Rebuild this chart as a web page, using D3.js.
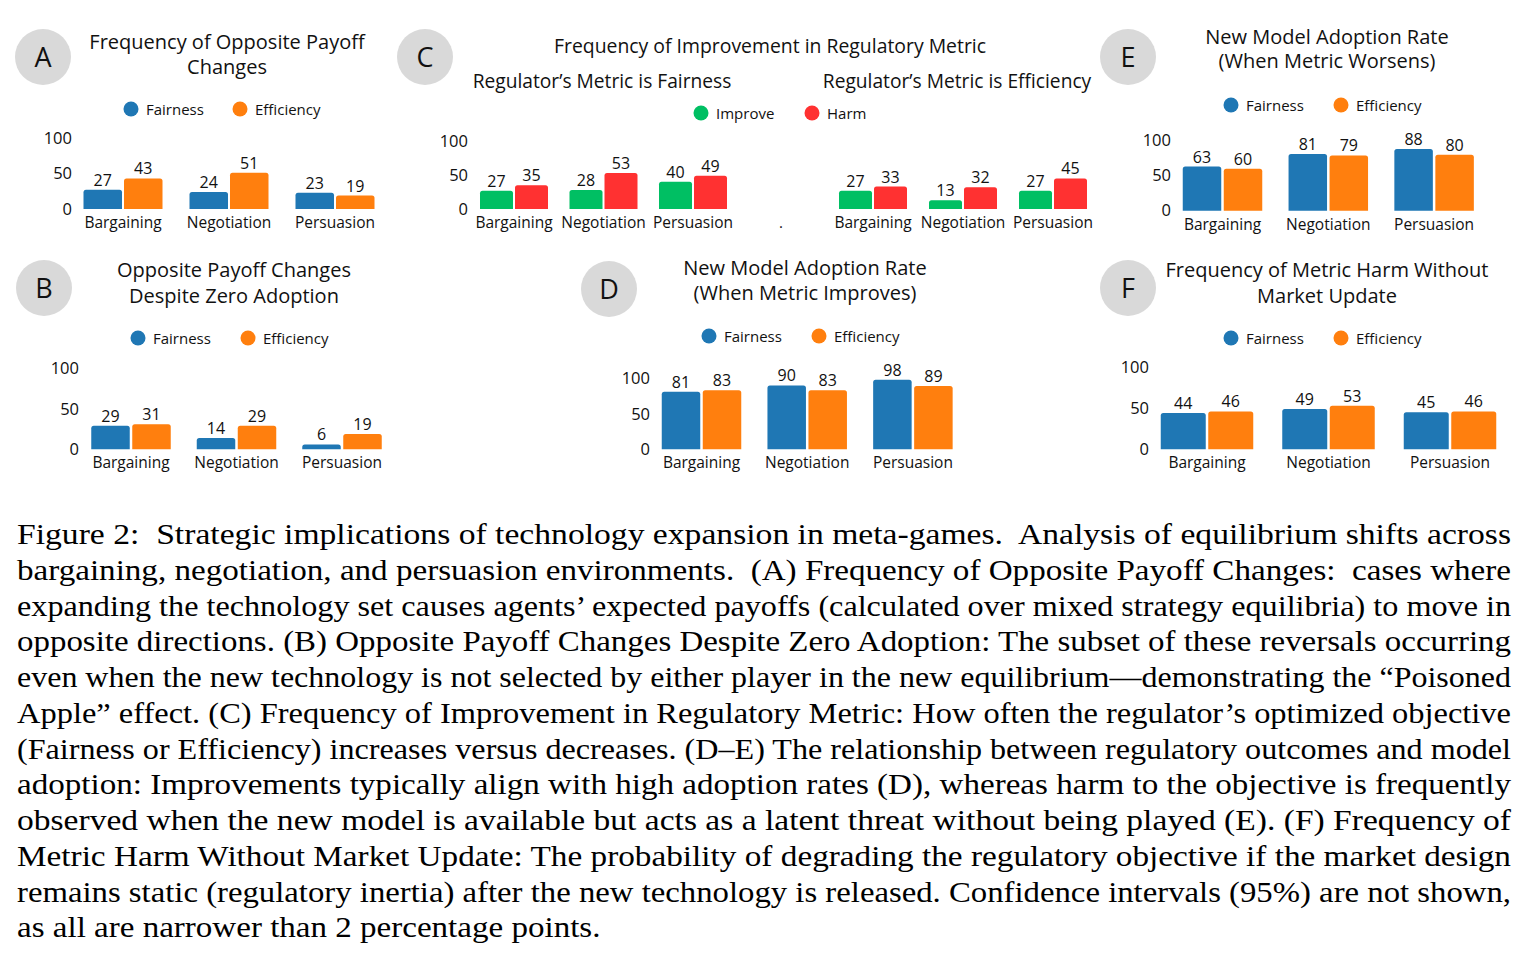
<!DOCTYPE html>
<html><head><meta charset="utf-8">
<script src="https://cdn.jsdelivr.net/npm/d3@7"></script>
<style>body{margin:0;background:#fff} svg{display:block}</style>
</head><body><svg id="c" width="1528" height="959"></svg>
<script>
// ---------- DATA ----------
const categories = ["Bargaining", "Negotiation", "Persuasion"];
const metricSeries = ["Fairness", "Efficiency"];
const outcomeSeries = ["Improve", "Harm"];
const yTicks = [0, 50, 100];

const panelA_fairness = [27, 24, 23];
const panelA_efficiency = [43, 51, 19];
const panelB_fairness = [29, 14, 6];
const panelB_efficiency = [31, 29, 19];
const panelC_fair_improve = [27, 28, 40];
const panelC_fair_harm = [35, 53, 49];
const panelC_eff_improve = [27, 13, 27];
const panelC_eff_harm = [33, 32, 45];
const panelD_fairness = [81, 90, 98];
const panelD_efficiency = [83, 83, 89];
const panelE_fairness = [63, 81, 88];
const panelE_efficiency = [60, 79, 80];
const panelF_fairness = [44, 49, 45];
const panelF_efficiency = [46, 53, 46];

const captionLines = [
  "Figure 2:  Strategic implications of technology expansion in meta-games.  Analysis of equilibrium shifts across",
  "bargaining, negotiation, and persuasion environments.  (A) Frequency of Opposite Payoff Changes:  cases where",
  "expanding the technology set causes agents\u2019 expected payoffs (calculated over mixed strategy equilibria) to move in",
  "opposite directions. (B) Opposite Payoff Changes Despite Zero Adoption: The subset of these reversals occurring",
  "even when the new technology is not selected by either player in the new equilibrium\u2014demonstrating the \u201cPoisoned",
  "Apple\u201d effect. (C) Frequency of Improvement in Regulatory Metric: How often the regulator\u2019s optimized objective",
  "(Fairness or Efficiency) increases versus decreases. (D\u2013E) The relationship between regulatory outcomes and model",
  "adoption: Improvements typically align with high adoption rates (D), whereas harm to the objective is frequently",
  "observed when the new model is available but acts as a latent threat without being played (E). (F) Frequency of",
  "Metric Harm Without Market Update: The probability of degrading the regulatory objective if the market design",
  "remains static (regulatory inertia) after the new technology is released. Confidence intervals (95%) are not shown,",
  "as all are narrower than 2 percentage points."
];

// ---------- STYLE ----------
const FONT = "'Open Sans', sans-serif";
const metricColors = ["#1f77b4", "#ff7f0e"];
const outcomeColors = ["#00bf63", "#ff3131"];
const TXT = "#111";

const svg = d3.select("#c");
svg.append("rect").attr("width", 1528).attr("height", 959).attr("fill", "#fff");

function topRounded(x, y, w, h, r) {
  r = Math.min(r, h, w / 2);
  return `M${x},${y + h}V${y + r}Q${x},${y} ${x + r},${y}H${x + w - r}Q${x + w},${y} ${x + w},${y + r}V${y + h}Z`;
}

function badge(cx, cy, letter) {
  svg.append("circle").attr("cx", cx).attr("cy", cy).attr("r", 28).attr("fill", "#d9d9d9");
  svg.append("text").attr("x", cx).attr("y", cy + 9.5).attr("text-anchor", "middle")
    .attr("font-family", FONT).attr("font-size", 27).attr("fill", TXT).text(letter);
}

function title(x, baselines, lines, size) {
  lines.forEach((l, i) => {
    svg.append("text").attr("x", x).attr("y", baselines[i]).attr("text-anchor", "middle")
      .attr("font-family", FONT).attr("font-size", size || 20).attr("fill", TXT).text(l);
  });
}

function legend(items, colors, positions, cy) {
  items.forEach((name, i) => {
    svg.append("circle").attr("cx", positions[i]).attr("cy", cy).attr("r", 7.5).attr("fill", colors[i]);
    svg.append("text").attr("x", positions[i] + 15).attr("y", cy + 5.5)
      .attr("font-family", FONT).attr("font-size", 15).attr("fill", TXT).text(name);
  });
}

function bars(cfg, seriesNames, seriesValues, colors) {
  const g = svg.append("g");
  const x = d3.scalePoint().domain(categories)
    .range([cfg.c0, cfg.c0 + cfg.step * (categories.length - 1)]);
  const inner = d3.scaleBand().domain(seriesNames)
    .range([-(cfg.w + cfg.g / 2), cfg.w + cfg.g / 2])
    .paddingInner(cfg.g / (cfg.w + cfg.g));
  const y = d3.scaleLinear().domain([0, 100]).range([cfg.y0, cfg.y100]);

  if (cfg.tickRight !== undefined) {
    const ag = g.append("g").attr("transform", `translate(${cfg.tickRight},0)`)
      .call(d3.axisLeft(y).tickValues(yTicks).tickSize(0).tickPadding(0));
    ag.select(".domain").remove();
    ag.selectAll("text").attr("font-family", FONT).attr("font-size", 16.5).attr("fill", TXT);
  }

  const rows = [];
  categories.forEach((c, i) => seriesNames.forEach((s, j) => rows.push({ c, s, j, v: seriesValues[j][i] })));

  g.selectAll("path.bar").data(rows).join("path").attr("class", "bar")
    .attr("d", d => topRounded(x(d.c) + inner(d.s), y(d.v), inner.bandwidth(), y(0) - y(d.v), 2.5))
    .attr("fill", d => colors[d.j]);

  g.selectAll("text.val").data(rows).join("text").attr("class", "val")
    .attr("x", d => x(d.c) + inner(d.s) + inner.bandwidth() / 2)
    .attr("y", d => y(d.v) - 4)
    .attr("text-anchor", "middle").attr("font-family", FONT).attr("font-size", 16).attr("fill", TXT)
    .text(d => d.v);

  g.selectAll("text.cat").data(categories).join("text").attr("class", "cat")
    .attr("x", d => x(d)).attr("y", cfg.catY)
    .attr("text-anchor", "middle").attr("font-family", FONT).attr("font-size", 15.5).attr("fill", TXT)
    .text(d => d);
}

// ---------- PANEL A ----------
badge(43, 57, "A");
title(227, [49, 74], ["Frequency of Opposite Payoff", "Changes"]);
legend(metricSeries, metricColors, [131, 240], 109);
bars({ c0: 123, step: 106, w: 38.5, g: 2, y0: 209, y100: 138, tickRight: 72, catY: 228 },
  metricSeries, [panelA_fairness, panelA_efficiency], metricColors);

// ---------- PANEL B ----------
badge(44, 288, "B");
title(234, [277, 303], ["Opposite Payoff Changes", "Despite Zero Adoption"]);
legend(metricSeries, metricColors, [138, 248], 338);
bars({ c0: 131, step: 105.5, w: 38.5, g: 2.5, y0: 449.3, y100: 368.5, tickRight: 79, catY: 468 },
  metricSeries, [panelB_fairness, panelB_efficiency], metricColors);

// ---------- PANEL C ----------
badge(425, 57, "C");
title(770, [53], ["Frequency of Improvement in Regulatory Metric"], 19.4);
title(602, [88], ["Regulator\u2019s Metric is Fairness"], 19.2);
title(957, [88], ["Regulator\u2019s Metric is Efficiency"], 19.2);
legend(outcomeSeries, outcomeColors, [701, 812], 113);
bars({ c0: 514, step: 89.5, w: 33, g: 2, y0: 209, y100: 141, tickRight: 468, catY: 228 },
  outcomeSeries, [panelC_fair_improve, panelC_fair_harm], outcomeColors);
bars({ c0: 873, step: 90, w: 33, g: 2, y0: 209, y100: 141, catY: 228 },
  outcomeSeries, [panelC_eff_improve, panelC_eff_harm], outcomeColors);
svg.append("text").attr("x", 781).attr("y", 228).attr("text-anchor", "middle")
  .attr("font-family", FONT).attr("font-size", 15).attr("fill", TXT).text(".");

// ---------- PANEL D ----------
badge(609, 289, "D");
title(805, [275, 300], ["New Model Adoption Rate", "(When Metric Improves)"]);
legend(metricSeries, metricColors, [709, 819], 336);
bars({ c0: 701.5, step: 105.7, w: 38.5, g: 2.5, y0: 449.3, y100: 378.3, tickRight: 650, catY: 468 },
  metricSeries, [panelD_fairness, panelD_efficiency], metricColors);

// ---------- PANEL E ----------
badge(1128, 57, "E");
title(1327, [44, 68], ["New Model Adoption Rate", "(When Metric Worsens)"]);
legend(metricSeries, metricColors, [1231, 1341], 105);
bars({ c0: 1222.5, step: 105.8, w: 38.5, g: 2.5, y0: 210.7, y100: 140.7, tickRight: 1171, catY: 230 },
  metricSeries, [panelE_fairness, panelE_efficiency], metricColors);

// ---------- PANEL F ----------
badge(1128, 288, "F");
title(1327, [277, 303], ["Frequency of Metric Harm Without", "Market Update"]);
legend(metricSeries, metricColors, [1231, 1341], 338);
bars({ c0: 1207, step: 121.5, w: 45, g: 2.5, y0: 449.3, y100: 367, tickRight: 1149, catY: 468 },
  metricSeries, [panelF_fairness, panelF_efficiency], metricColors);

// ---------- CAPTION ----------
const cap = svg.append("g");
const STRETCH = 1.12;
captionLines.forEach((line, i) => {
  const t = cap.append("text").attr("x", 17).attr("y", 544 + i * 35.75)
    .attr("font-family", "'Liberation Serif', 'DejaVu Serif', serif").attr("font-size", 29.5)
    .attr("fill", "#000").attr("xml:space", "preserve").text(line);
  const natural = t.node().getComputedTextLength();
  const target = i < captionLines.length - 1 ? 1494 : natural * STRETCH;
  t.attr("textLength", target).attr("lengthAdjust", "spacingAndGlyphs");
});
</script></body></html>
